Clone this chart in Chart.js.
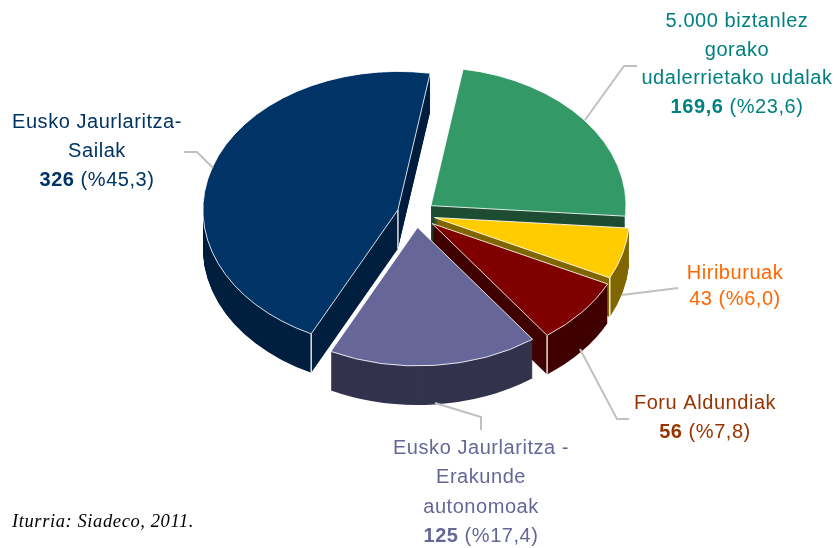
<!DOCTYPE html>
<html>
<head>
<meta charset="utf-8">
<title>Iturria: Siadeco, 2011</title>
<script src="https://cdn.jsdelivr.net/npm/chart.js@4"></script>
<style>
  html, body { margin: 0; padding: 0; background: #fff; }
  canvas { display: block; }
</style>
</head>
<body>
<canvas id="pie" width="837" height="548"></canvas>
<script>
// Data
const categories = [
  ["5.000 biztanlez", "gorako", "udalerrietako udalak"],
  ["Hiriburuak"],
  ["Foru Aldundiak"],
  ["Eusko Jaurlaritza -", "Erakunde", "autonomoak"],
  ["Eusko Jaurlaritza-", "Sailak"],
];
const values = [169.6, 43, 56, 125, 326];
const valueLabels = ["169,6", "43", "56", "125", "326"];
const percentLabels = ["(%23,6)", "(%6,0)", "(%7,8)", "(%17,4)", "(%45,3)"];
const sourceNote = "Iturria: Siadeco, 2011.";

// Colours
const topColors = ["#339966", "#ffcc00", "#800000", "#666699", "#003366"];
const wallColors = ["#1e4d33", "#806600", "#400000", "#33334d", "#001f3f"];
const textColors = ["#008080", "#ff6600", "#993300", "#666699", "#003366"];
const boldValue = [true, false, true, true, true];

// Fake 3D settings
const squash = 0.71;
const depth = 39;
const explode = [19, 19, 21, 19, 19];
const drawOrder = [4, 0, 1, 2, 3];
const whiteEdges = { 0: ["end"], 1: ["end"], 2: ["end"], 4: ["start", "apex"] };

// Text blocks: centre x, first baseline, line height
const labelPos = [
  { x: 737, y: 27, lh: 28.7 },
  { x: 735, y: 279, lh: 26 },
  { x: 705, y: 409, lh: 29 },
  { x: 481, y: 454, lh: 29.3 },
  { x: 97, y: 128, lh: 29 },
];

const leaders = [
  [[637, 66], [624, 66], [585, 120]],
  [[622, 295], [678, 288]],
  [[580, 349], [617, 419], [629, 419]],
  [[435, 403], [481, 417], [481, 430]],
  [[184, 152], [197, 152], [213, 168]],
];

// Draws the arcs of the pie as stacked, squashed copies
const pie3d = {
  id: "pie3d",
  beforeDatasetDraw(chart) {
    const ctx = chart.ctx;
    const arcs = chart.getDatasetMeta(0).data;

    drawOrder.forEach((i) => {
      const arc = arcs[i];
      const half = (arc.startAngle + arc.endAngle) / 2;
      const dx = Math.cos(half) * explode[i];
      const dy = Math.sin(half) * explode[i];

      const place = (shift) => {
        ctx.translate(arc.x, arc.y + shift);
        ctx.scale(1, squash);
        ctx.translate(-arc.x + dx, -arc.y + dy);
      };

      // side walls
      const wall = Object.create(arc);
      wall.options = Object.assign({}, arc.options, {
        backgroundColor: wallColors[i],
        borderWidth: 0,
      });
      for (let d = depth; d > 0; d--) {
        ctx.save();
        place(d);
        wall.draw(ctx);
        ctx.restore();
      }

      // white lines down the corners
      (whiteEdges[i] || []).forEach((corner) => {
        let px = arc.x + dx;
        let py = arc.y + dy * squash;
        if (corner !== "apex") {
          const a = corner === "start" ? arc.startAngle : arc.endAngle;
          px += Math.cos(a) * arc.outerRadius;
          py += Math.sin(a) * arc.outerRadius * squash;
        }
        ctx.save();
        ctx.strokeStyle = "#fff";
        ctx.lineWidth = 1.3;
        ctx.beginPath();
        ctx.moveTo(px, py);
        ctx.lineTo(px, py + depth);
        ctx.stroke();
        ctx.restore();
      });

      // top face
      ctx.save();
      place(0);
      arc.draw(ctx);
      ctx.restore();
    });
    return false;
  },
};

// Leader lines and labels
const labelsPlugin = {
  id: "labelsPlugin",
  afterDraw(chart) {
    const ctx = chart.ctx;
    ctx.save();

    ctx.strokeStyle = "#c0c0c0";
    ctx.lineWidth = 2;
    leaders.forEach((pts) => {
      ctx.beginPath();
      pts.forEach((p, n) => (n ? ctx.lineTo(p[0], p[1]) : ctx.moveTo(p[0], p[1])));
      ctx.stroke();
    });

    const regular = "20px 'Liberation Sans'";
    const bold = "bold 20px 'Liberation Sans'";
    ctx.textBaseline = "alphabetic";
    ctx.letterSpacing = "0.55px";
    categories.forEach((lines, i) => {
      const pos = labelPos[i];
      ctx.fillStyle = textColors[i];
      ctx.textAlign = "center";
      ctx.font = regular;
      lines.forEach((line, n) => ctx.fillText(line, pos.x, pos.y + n * pos.lh));

      // value line: bold number followed by the share
      const y = pos.y + lines.length * pos.lh;
      const first = valueLabels[i] + " ";
      ctx.font = boldValue[i] ? bold : regular;
      const w1 = ctx.measureText(first).width;
      ctx.font = regular;
      const w2 = ctx.measureText(percentLabels[i]).width;
      const left = pos.x - (w1 + w2) / 2;
      ctx.textAlign = "left";
      ctx.font = boldValue[i] ? bold : regular;
      ctx.fillText(first, left, y);
      ctx.font = regular;
      ctx.fillText(percentLabels[i], left + w1, y);
    });

    ctx.fillStyle = "#000";
    ctx.textAlign = "left";
    ctx.font = "italic 18.5px 'Liberation Serif'";
    ctx.letterSpacing = "0.6px";
    ctx.fillText(sourceNote, 12, 527);
    ctx.restore();
  },
};

new Chart(document.getElementById("pie"), {
  type: "pie",
  data: {
    labels: categories.map((c) => c.join(" ")),
    datasets: [
      {
        data: values,
        backgroundColor: topColors,
        borderColor: "#fff",
        borderWidth: 1,
      },
    ],
  },
  options: {
    responsive: false,
    animation: false,
    rotation: 9.5,
    radius: 195,
    layout: { padding: { right: 5, bottom: 120 } },
    plugins: { legend: { display: false }, tooltip: { enabled: false } },
  },
  plugins: [pie3d, labelsPlugin],
});
</script>
</body>
</html>
